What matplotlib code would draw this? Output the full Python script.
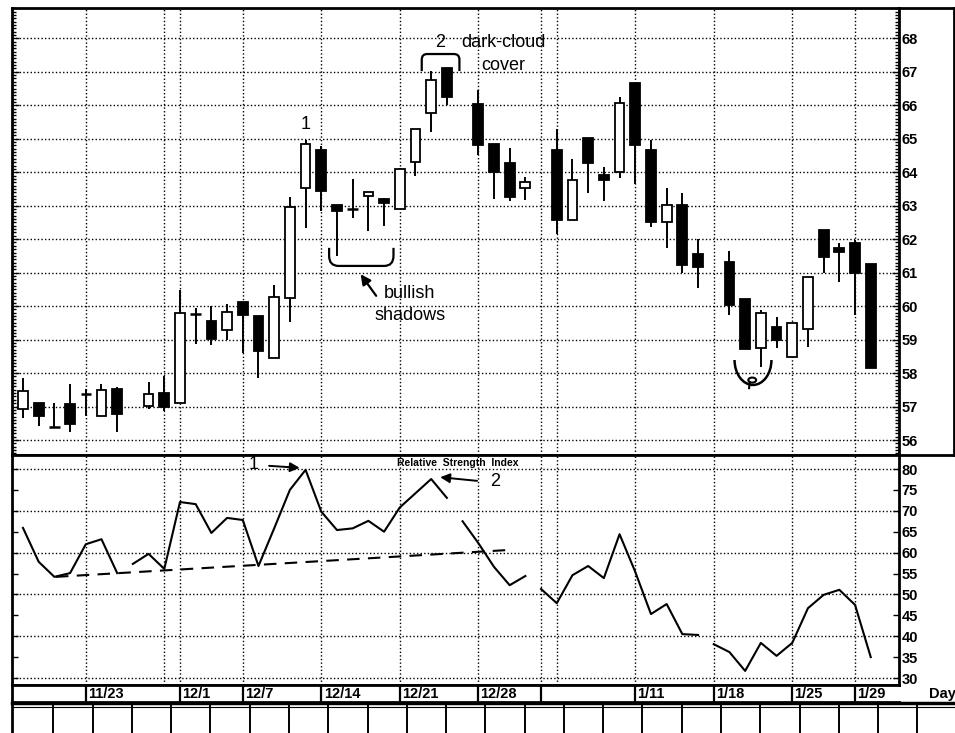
import matplotlib
matplotlib.use("Agg")
import matplotlib.pyplot as plt
import numpy as np
from matplotlib.path import Path
from matplotlib.patches import PathPatch, Arc, Ellipse
from matplotlib.ticker import MultipleLocator

# ---- data (slot = trading-day position) ----
slots = [0, 1, 2, 3, 4, 5, 6, 8, 9, 10, 11, 12, 13, 14, 15, 16, 17, 18, 19, 20,
         21, 22, 23, 24, 25, 26, 27, 29, 30, 31, 32, 34, 35, 36, 37, 38, 39, 40,
         41, 42, 43, 45, 46, 47, 48, 49, 50, 51, 52, 53, 54]
opens = [56.92, 57.10, 56.38, 57.07, 57.37, 56.72, 57.52, 57.01, 57.40, 57.10,
         59.76, 59.55, 59.28, 60.12, 59.70, 58.45, 60.24, 63.52, 64.66, 63.01,
         62.90, 63.28, 63.19, 62.90, 64.30, 65.76, 67.10, 66.03, 64.84, 64.27,
         63.52, 64.66, 62.57, 65.01, 63.91, 64.00, 66.66, 64.66, 62.52, 63.01,
         61.57, 61.33, 60.21, 58.75, 59.37, 58.48, 59.31, 62.27, 61.73, 61.88,
         61.25]
highs = [57.85, 57.10, 57.10, 57.67, 57.52, 57.67, 57.58, 57.73, 57.91, 60.48,
         59.94, 60.00, 60.06, 60.12, 59.70, 60.63, 63.25, 64.96, 64.78, 63.01,
         63.79, 63.40, 63.22, 64.12, 65.28, 67.01, 67.10, 66.45, 64.84, 64.72,
         63.85, 65.28, 64.39, 65.01, 64.15, 66.24, 66.66, 64.97, 63.52, 63.37,
         61.99, 61.66, 60.21, 59.88, 59.67, 59.49, 60.87, 62.27, 61.88, 61.97,
         61.25]
lows = [56.66, 56.42, 56.38, 56.24, 56.72, 56.72, 56.24, 56.93, 56.87, 57.10,
        58.87, 58.84, 58.99, 58.60, 57.85, 58.45, 59.52, 62.33, 62.84, 61.49,
        62.62, 62.24, 62.39, 62.90, 63.88, 65.19, 66.00, 64.51, 63.19, 63.13,
        63.16, 62.15, 62.57, 63.37, 63.13, 63.82, 63.64, 62.36, 61.75, 60.99,
        60.55, 59.73, 58.72, 58.18, 58.75, 58.48, 58.78, 60.99, 60.72, 59.73,
        58.15]
closes = [57.46, 56.72, 56.38, 56.48, 57.37, 57.49, 56.78, 57.37, 56.99, 59.79,
          59.76, 59.01, 59.82, 59.73, 58.66, 60.27, 62.95, 64.84, 63.43, 62.84,
          62.90, 63.40, 63.07, 64.09, 65.28, 66.75, 66.24, 64.81, 64.00, 63.25,
          63.70, 62.57, 63.76, 64.27, 63.76, 66.06, 64.81, 62.50, 63.01, 61.22,
          61.18, 60.03, 58.72, 59.79, 58.99, 59.49, 60.87, 61.46, 61.61, 60.99,
          58.15]

# RSI, drawn as broken segments (start slot, values)
rsi_starts = [0, 7, 28, 33, 44]
rsi_values = [
    [65.9, 57.8, 54.2, 55.1, 62.0, 63.2, 55.1],
    [57.3, 59.7, 56.1, 72.1, 71.6, 64.7, 68.3, 67.8, 56.8, 65.8, 75.0, 79.8,
     69.8, 65.4, 65.8, 67.6, 65.0, 70.8, 74.2, 77.6, 73.1],
    [67.5, 62.3, 56.6, 52.2, 54.4],
    [51.3, 47.9, 54.6, 56.8, 53.9, 64.4, 55.4, 45.3, 47.7, 40.5, 40.3],
    [38.1, 36.2, 31.7, 38.4, 35.3, 38.4, 46.7, 49.9, 51.1, 47.5, 35.0],
]
trend_x = [2.1, 30.8]
trend_y = [54.2, 60.6]

date_labels = ['11/23', '12/1', '12/7', '12/14', '12/21', '12/28',
               '1/11', '1/18', '1/25', '1/29']
date_slots = [4, 10, 14, 19, 24, 29, 39, 44, 49, 53]
blank_box_slots = [33]
grid_slots = [4, 9, 10, 14, 19, 24, 29, 33, 34, 39, 44, 49, 53]
price_ticks = list(range(56, 69))
rsi_ticks = list(range(30, 81, 5))
rsi_grid = list(range(30, 81, 10))

# ---- layout ----
W, H = 955, 733
narrow = ['Liberation Sans Narrow', 'Liberation Sans', 'DejaVu Sans']
sans = ['Liberation Sans', 'DejaVu Sans']
dots = (0, (1, 1.6))


def rect(x0, y0, x1, y1):
    return [x0 / W, 1 - y1 / H, (x1 - x0) / W, (y1 - y0) / H]


fig = plt.figure(figsize=(W / 100, H / 100), dpi=100)
ax_p = fig.add_axes(rect(12, 8, 899, 455))
ax_r = fig.add_axes(rect(12, 455, 899, 685), sharex=ax_p)
ax_d = fig.add_axes(rect(12, 685, 899, 702), sharex=ax_p)
xlim = (-0.70, 55.8)
ax_p.set_xlim(xlim)
ax_p.set_ylim(55.552, 68.905)
ax_r.set_ylim(28.33, 83.35)
ax_d.set_ylim(0, 1)

for ax in (ax_p, ax_r, ax_d):
    for sp in ax.spines.values():
        sp.set_linewidth(2)
ax_d.spines['right'].set_visible(False)

# ---- price panel ----
ax_p.set_xticks(grid_slots)
ax_p.set_yticks(price_ticks)
ax_p.yaxis.set_minor_locator(MultipleLocator(0.1))
ax_p.tick_params(axis='x', length=0, labelbottom=False)
ax_p.tick_params(axis='y', which='both', direction='in', left=True, right=True,
                 labelleft=False, labelright=True, pad=2, width=1)
ax_p.tick_params(axis='y', which='major', length=5)
ax_p.tick_params(axis='y', which='minor', length=3)
for lab in ax_p.get_yticklabels():
    lab.set_fontfamily(narrow)
    lab.set_fontweight('bold')
    lab.set_fontsize(10.5)
ax_p.grid(True, which='major', color='k', linestyle=dots, linewidth=1)

for s, o, h, l, c in zip(slots, opens, highs, lows, closes):
    ax_p.vlines(s, l, h, color='k', lw=1.4, zorder=2)
    if abs(c - o) < 0.02:
        ax_p.hlines(o, s - 0.33, s + 0.33, color='k', lw=1.8, zorder=3)
    else:
        ax_p.bar(s, abs(c - o), bottom=min(o, c), width=0.62,
                 color='white' if c > o else 'black', edgecolor='k',
                 linewidth=1.3, zorder=3)


def bracket(ax, x0, x1, y_end, y_mid, rx, ry):
    d = 1 if y_mid > y_end else -1
    verts = [(x0, y_end), (x0, y_mid - d * ry), (x0, y_mid), (x0 + rx, y_mid),
             (x1 - rx, y_mid), (x1, y_mid), (x1, y_mid - d * ry), (x1, y_end)]
    codes = [Path.MOVETO, Path.LINETO, Path.CURVE3, Path.CURVE3,
             Path.LINETO, Path.CURVE3, Path.CURVE3, Path.LINETO]
    ax.add_patch(PathPatch(Path(verts, codes), fill=False, lw=1.6, color='k',
                           zorder=4))


txt = dict(fontfamily=sans, fontsize=13, color='k', ha='center', va='center')
ax_p.text(18, 65.41, '1', **txt)
ax_p.text(26.56, 67.86, '2', **txt)
ax_p.text(30.6, 67.86, 'dark-cloud', **txt)
ax_p.text(30.6, 67.2, 'cover', **txt)
bracket(ax_p, 25.4, 27.8, 67.02, 67.53, 0.35, 0.17)
bracket(ax_p, 19.5, 23.6, 61.74, 61.2, 0.6, 0.3)
ax_p.annotate('', xy=(21.4, 61.02), xytext=(22.6, 60.24),
              arrowprops=dict(arrowstyle='-|>', color='k', lw=1.6,
                              mutation_scale=15))
ax_p.text(24.65, 60.39, 'bullish', **txt)
ax_p.text(24.65, 59.73, 'shadows', **txt)
ax_p.add_patch(Arc((46.5, 58.39), 2.35, 1.49, theta1=180, theta2=360,
                   lw=1.8, color='k', zorder=4))
ax_p.add_patch(Ellipse((46.45, 57.79), 0.5, 0.15, fill=False, lw=1.5,
                       color='k', zorder=4))
ax_p.plot([46.3, 46.25], [57.73, 57.55], color='k', lw=1.5, zorder=4)

# ---- RSI panel ----
ax_r.set_yticks(rsi_ticks)
ax_r.tick_params(axis='x', length=0, labelbottom=False)
ax_r.tick_params(axis='y', direction='in', left=True, right=True,
                 labelleft=False, labelright=True, pad=2, length=4, width=1)
for lab in ax_r.get_yticklabels():
    lab.set_fontfamily(narrow)
    lab.set_fontweight('bold')
    lab.set_fontsize(10.5)
ax_r.grid(True, axis='x', color='k', linestyle=dots, linewidth=1)
for g in rsi_grid:
    ax_r.axhline(g, color='k', linestyle=dots, linewidth=1, zorder=1)

for start, vals in zip(rsi_starts, rsi_values):
    ax_r.plot(np.arange(start, start + len(vals)), vals, color='k', lw=1.5,
              zorder=3)
ax_r.plot(trend_x, trend_y, color='k', lw=1.5, dashes=(6, 4), zorder=3)

ax_r.text(14.7, 80.96, '1', **txt)
ax_r.annotate('', xy=(17.8, 80.24), xytext=(15.5, 80.8),
              arrowprops=dict(arrowstyle='-|>', color='k', lw=1.4,
                              mutation_scale=14))
ax_r.text(27.7, 81.4, 'Relative  Strength  Index', fontfamily=narrow,
          fontweight='bold', fontsize=7.5, ha='center', va='center')
ax_r.annotate('', xy=(26.4, 78.1), xytext=(29.1, 77.1),
              arrowprops=dict(arrowstyle='-|>', color='k', lw=1.4,
                              mutation_scale=14))
ax_r.text(30.1, 76.9, '2', **txt)

# ---- date row ----
ax_d.set_yticks([])
ax_d.tick_params(axis='x', length=0, labelbottom=False)
ax_d.vlines(date_slots + blank_box_slots, 0, 1, color='k', lw=1.6)
for s, lab in zip(date_slots, date_labels):
    ax_d.text(s + 0.15, 0.45, lab, fontfamily=narrow, fontweight='bold',
              fontsize=10.5, ha='left', va='center')
ax_d.text(57.7, 0.45, 'Day', fontfamily=narrow, fontweight='bold',
          fontsize=10.5, ha='left', va='center', clip_on=False)

# ---- outer frame and empty calendar strip ----
ov = fig.add_axes([0, 0, 1, 1], zorder=-1)
ov.set_xlim(0, W)
ov.set_ylim(H, 0)
ov.axis('off')
ov.plot([899, 955], [8, 8], color='k', lw=2)
ov.plot([954, 954], [8, 455], color='k', lw=2)
ov.plot([899, 955], [455, 455], color='k', lw=2)
ov.plot([12, 955], [703, 703], color='k', lw=2.5)
ov.plot([12, 955], [707, 707], color='k', lw=0.8)
ov.plot([12, 12], [700, 733], color='k', lw=2)
for k in range(1, 24):
    xk = 14 + 39.28 * k
    ov.plot([xk, xk], [703, 733], color='k', lw=1.4)

fig.savefig('out.png', dpi=100, facecolor='white')
